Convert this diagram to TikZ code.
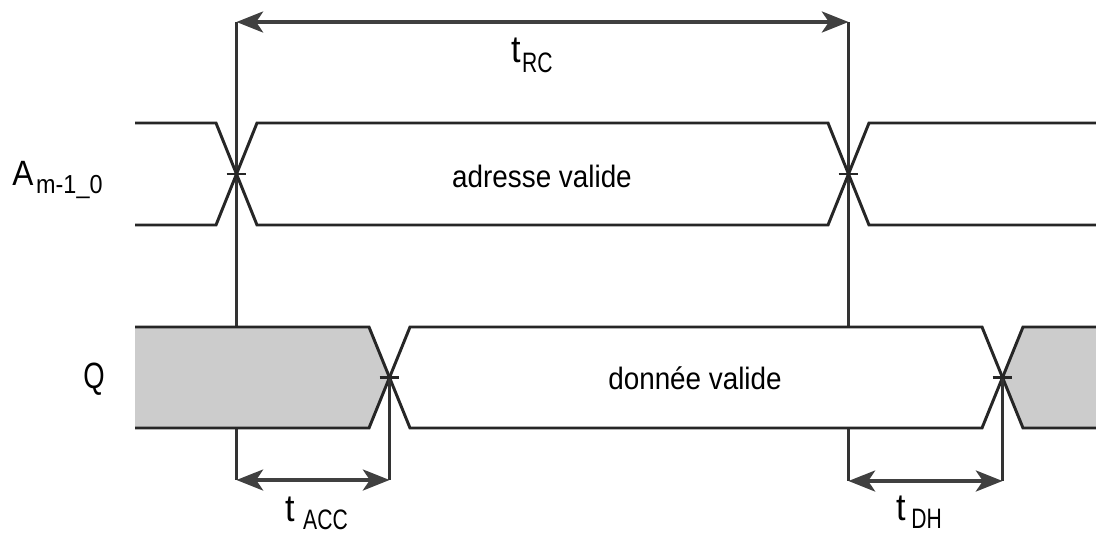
\documentclass[tikz,border=0pt]{standalone}
\usepackage{fontspec}
\setmainfont[FakeStretch=0.9]{Liberation Sans}
\newfontfamily\condfont[FakeStretch=0.75]{Liberation Sans}
\usetikzlibrary{arrows.meta}
\newcommand{\fs}[1]{\fontsize{#1}{#1}\selectfont}

\begin{document}
\begin{tikzpicture}[x=0.025cm,y=-0.025cm,
    sig/.style={line width=2.1pt,black!85,line join=miter},
    vline/.style={line width=1.6pt,black!80},
    dim/.style={<->,line width=2.2pt,black!75,
        >={Stealth[length=19pt,width=15pt,inset=5pt]}},
    xtick/.style={line width=1.6pt,black!85},
    lbl/.style={inner sep=0pt,anchor=base west}]

    \useasboundingbox (0,0) rectangle (1096,534);

    \coordinate (a1) at (236.5,174);
    \coordinate (a2) at (848.5,174);
    \coordinate (q1) at (389.5,377.5);
    \coordinate (q2) at (1002.5,377.5);
    \coordinate (rc1) at (236.5,22);
    \coordinate (rc2) at (848.5,22);
    \coordinate (acc1) at (236.5,480);
    \coordinate (acc2) at (389.5,480);
    \coordinate (dh1) at (848.5,481);
    \coordinate (dh2) at (1002.5,481);

    \draw[vline] (rc1) -- (acc1);
    \draw[vline] (rc2) -- (dh1);

    \fill[black!20] (135,327) -- (369,327) -- (q1) -- (369,428) -- (135,428) -- cycle;
    \fill[white] (q1) -- (410,327) -- (982,327) -- (q2) -- (982,428) -- (410,428) -- cycle;
    \fill[black!20] (q2) -- (1023,327) -- (1096,327) -- (1096,428) -- (1023,428) -- cycle;

    \draw[sig] (135,123) -- (216,123) -- (257,225) -- (828,225) -- (869,123) -- (1096,123);
    \draw[sig] (135,225) -- (216,225) -- (257,123) -- (828,123) -- (869,225) -- (1096,225);
    \draw[sig] (135,327) -- (369,327) -- (410,428) -- (982,428) -- (1023,327) -- (1096,327);
    \draw[sig] (135,428) -- (369,428) -- (410,327) -- (982,327) -- (1023,428) -- (1096,428);

    \draw[vline] (q1) -- (acc2);
    \draw[vline] (q2) -- (dh2);

    \foreach \c in {a1,a2,q1,q2}
        \draw[xtick] ([xshift=-7pt]\c) -- ([xshift=7pt]\c);

    \draw[dim] (rc1) -- (rc2);
    \draw[dim] (acc1) -- (acc2);
    \draw[dim] (dh1) -- (dh2);

    \node[lbl] (trc) at (511,62)
        {{\fs{27}t}\hspace{1pt}{\condfont\fs{20}\raisebox{-7.8pt}{RC}}};
    \node[lbl] (tacc) at (285,521)
        {{\fs{27}t}\hspace{6pt}{\condfont\fs{20}\raisebox{-5.7pt}{ACC}}};
    \node[lbl] (tdh) at (896,520)
        {{\fs{27}t}\hspace{4pt}{\condfont\fs{20}\raisebox{-6pt}{DH}}};

    \node[lbl] (alab) at (12,185)
        {{\fs{25}A}\hspace{2pt}{\fs{18.5}\raisebox{-5.7pt}{m-1\_0}}};
    \node[inner sep=0pt,anchor=base] (qlab) at (94,388) {\condfont\fs{26}Q};

    \node[inner sep=0pt,anchor=base] (adr) at (542,187) {\fs{22}adresse valide};
    \node[inner sep=0pt,anchor=base] (don) at (695,389) {\fs{22}donnée valide};

\end{tikzpicture}
\end{document}
